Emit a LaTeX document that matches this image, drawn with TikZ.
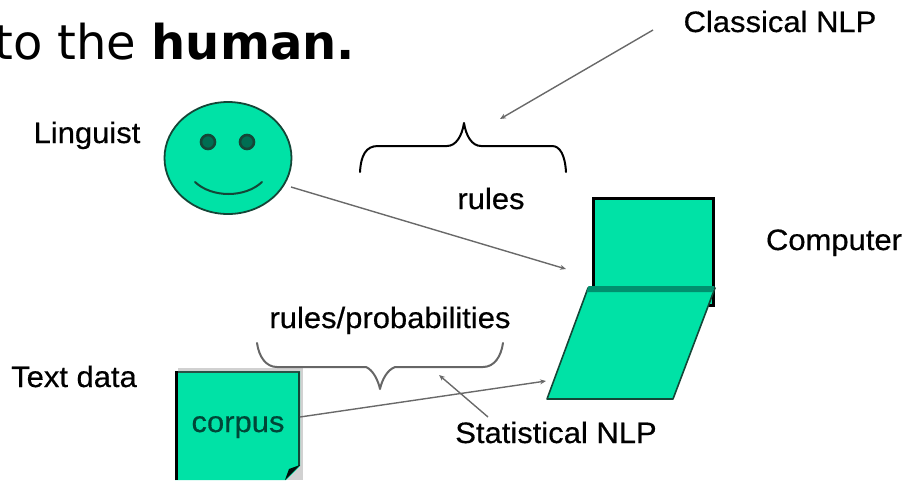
\documentclass[tikz,border=0pt]{standalone}
\usepackage{fontspec}
\setmainfont[FakeStretch=1.05,FakeBold=0.5]{Liberation Sans}
\newfontfamily\headfont{DejaVu Sans}
\usetikzlibrary{arrows.meta,shapes.geometric}
\definecolor{mint}{RGB}{0,226,166}
\definecolor{mintdark}{RGB}{0,144,110}
\definecolor{edgegreen}{RGB}{20,70,55}
\definecolor{eyegreen}{RGB}{0,110,82}
\definecolor{pointergray}{RGB}{105,105,105}
\definecolor{corpustext}{RGB}{0,70,55}
\tikzset{
  lbl/.style={font=\fontsize{29.5}{34}\selectfont, inner sep=0pt, anchor=base},
  pointer/.style={draw=pointergray, line width=1.4pt, -{Stealth[length=6pt,width=5pt]}},
  bracestroke/.style={line width=2pt, line cap=round, line join=round},
  eye/.style={circle, draw=edgegreen, line width=2.6pt, fill=eyegreen, minimum size=14pt, inner sep=0pt},
}
\begin{document}
\begin{tikzpicture}[x=1pt,y=-1pt]
\useasboundingbox (0,0) rectangle (905,480);
\clip (0,0) rectangle (905,480);

% heading fragment
\node[anchor=base west, inner sep=0pt, font=\headfont\fontsize{48}{56}\selectfont] (title) at (-6,59) {to the \textbf{human.}};

% labels
\node[lbl] (classical) at (780,32) {Classical NLP};
\node[lbl] (linguist) at (87,143) {Linguist};
\node[lbl] (rules) at (491,209) {rules};
\node[lbl] (computer) at (834,250) {Computer};
\node[lbl] (rulesprob) at (390,328) {rules/probabilities};
\node[lbl] (textdata) at (74,387) {Text data};
\node[lbl] (statnlp) at (556,443) {Statistical NLP};

% linguist: smiley face
\node[ellipse, draw=edgegreen, line width=1.8pt, fill=mint, minimum width=127pt, minimum height=112pt, inner sep=0pt] (face) at (228,158) {};
\node[eye] (eyeL) at (208,142) {};
\node[eye] (eyeR) at (247,142) {};
\draw[edgegreen, line width=2pt, line cap=round] (195,182) .. controls (212,198) and (245,198) .. (262,182);

% computer: screen and keyboard
\node[draw=black, line width=3pt, fill=mint, minimum width=120pt, minimum height=107pt, inner sep=0pt] (screen) at (653.5,252) {};
\draw[edgegreen, line width=1.6pt, fill=mint, line join=round] (588,288) -- (715,288) -- (673,399) -- (547,399) -- cycle;
\fill[mintdark] (588.5,286) -- (714.5,286) -- (712.5,292) -- (586.5,292) -- cycle;

% corpus: dog-eared document
\fill[black!18] (178,368) rectangle (303,480);
\fill[mint] (175,371) -- (300,371) -- (300,466) -- (286,480) -- (175,480) -- cycle;
\draw[edgegreen!80!gray, line width=2pt] (175,372) -- (300,372);
\draw[edgegreen, line width=2pt] (299,372) -- (299,466);
\draw[black, line width=3pt] (176.5,371) -- (176.5,480);
\fill[black!80!edgegreen] (300,465) -- (285,480) -- (289,469) -- cycle;
\node[lbl, text=corpustext] (corpus) at (238,432) {corpus};

% braces
\draw[black, bracestroke] (360,172) .. controls (361,155) and (366,146) .. (378,146) -- (447,146)
  .. controls (456,146) and (462,136) .. (464,123)
  .. controls (466,136) and (472,146) .. (481,146) -- (552,146)
  .. controls (560,146) and (565,155) .. (566,172);
\draw[black!60, bracestroke] (257,343) .. controls (259,357) and (266,367) .. (277,367) -- (366,367)
  .. controls (373,370) and (378,380) .. (380,389)
  .. controls (382,380) and (387,370) .. (395,367) -- (483,367)
  .. controls (494,367) and (501,357) .. (503,343);

% connector ends
\coordinate (classicalfoot) at (653,30);
\coordinate (rulesmark) at (500,119);
\coordinate (facecheek) at (291,187);
\coordinate (computerfront) at (566,269);
\coordinate (corpusside) at (300,417);
\coordinate (keyboardedge) at (546,381);
\coordinate (statfoot) at (488,417);
\coordinate (probmark) at (439,375);

\draw[pointer] (classicalfoot) -- (rulesmark);
\draw[pointer] (facecheek) -- (computerfront);
\draw[pointer] (corpusside) -- (keyboardedge);
\draw[pointer] (statfoot) -- (probmark);
\end{tikzpicture}
\end{document}
